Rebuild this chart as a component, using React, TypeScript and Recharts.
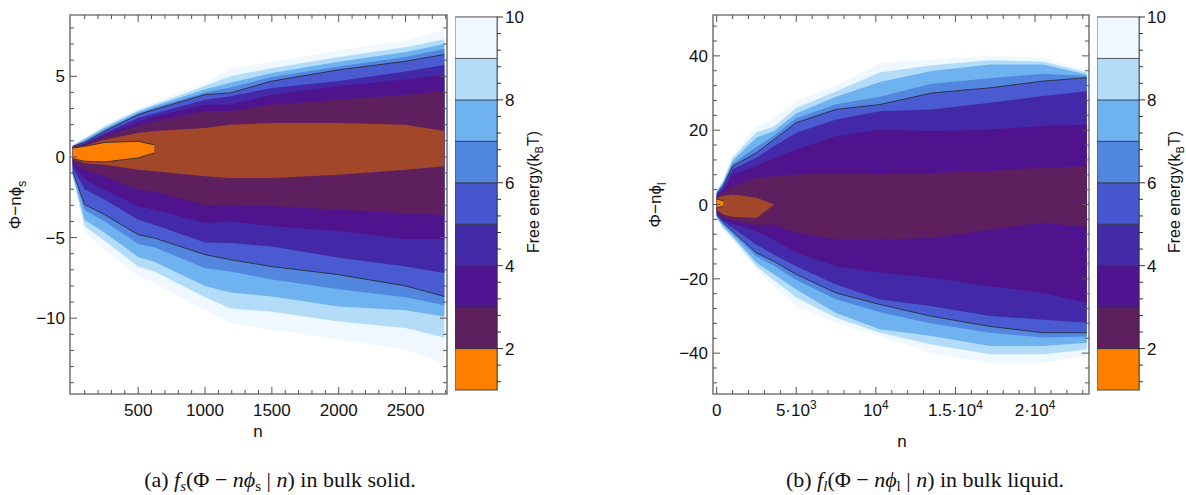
import React from "react";
import { ComposedChart, Area, XAxis, YAxis, ReferenceArea, BarChart, Bar } from "recharts";

// ---------------- Panel (a): bulk solid ----------------
const nA = [10, 100, 250, 500, 620, 1000, 1190, 1500, 2000, 2500, 2790];
const aPaleHi = [0.75, 1.2, 2.0, 3.0, 3.4, 4.6, 5.5, 5.9, 6.6, 7.2, 7.9];
const aL8Hi = [0.72, 1.15, 1.9, 2.9, 3.25, 4.4, 5.0, 5.5, 6.2, 6.8, 7.3];
const aLightHi = [0.7, 1.1, 1.8, 2.8, 3.15, 4.2, 4.6, 5.2, 5.9, 6.5, 7.0];
const aL6Hi = [0.68, 1.0, 1.7, 2.7, 3.05, 4.0, 4.3, 4.95, 5.6, 6.2, 6.7];
const aBlackHi = [0.65, 0.9, 1.6, 2.62, 2.93, 3.86, 3.97, 4.7, 5.4, 5.93, 6.35];
const aIndHi = [0.63, 0.85, 1.5, 2.42, 2.7, 3.55, 3.76, 4.28, 4.7, 5.3, 5.7];
const aPurHi = [0.62, 0.8, 1.38, 2.2, 2.5, 3.24, 3.25, 3.86, 4.38, 4.8, 5.1];
const aDarkHi = [0.61, 0.75, 1.28, 1.94, 2.2, 2.83, 2.83, 3.24, 3.55, 3.86, 4.07];
const aBrownHi = [0.6, 0.7, 1.07, 1.49, 1.6, 1.8, 2.0, 2.1, 2.1, 2.0, 1.6];
const aCoreHi = [0.55, 0.66, 0.9, 0.97, 0.75, null, null, null, null, null, null];
const aCoreLo = [-0.1, -0.27, -0.31, -0.06, 0.25, null, null, null, null, null, null];
const aBrownLo = [-0.15, -0.4, -0.48, -0.79, -0.89, -1.2, -1.3, -1.3, -1.1, -0.79, -0.58];
const aDarkLo = [-0.3, -0.8, -1.2, -2.03, -2.13, -3.0, -2.96, -3.06, -3.27, -3.5, -3.6];
const aPurLo = [-0.5, -1.4, -2.03, -3.06, -3.27, -4.1, -4.0, -4.3, -4.6, -5.1, -5.1];
const aIndLo = [-0.7, -2.0, -2.65, -3.9, -4.2, -5.3, -5.34, -5.55, -6.25, -6.8, -7.2];
const aBlackLo = [-0.9, -2.96, -3.58, -4.82, -5.03, -6.06, -6.37, -6.8, -7.3, -8.0, -8.65];
const aL6Lo = [-1.0, -3.3, -4.0, -5.4, -5.6, -6.9, -7.1, -7.6, -8.2, -8.7, -9.2];
const aLightLo = [-1.1, -3.9, -4.7, -6.2, -6.5, -8.0, -8.4, -8.65, -9.27, -9.5, -9.9];
const aL8Lo = [-1.2, -4.3, -5.2, -6.8, -7.1, -8.7, -9.4, -9.6, -10.2, -10.6, -11.2];
const aPaleLo = [-1.3, -4.7, -5.75, -7.4, -7.8, -9.5, -10.3, -10.7, -11.3, -11.95, -12.8];

const aXTicks = [100,200,300,400,500,600,700,800,900,1000,1100,1200,1300,1400,1500,1600,1700,1800,1900,2000,2100,2200,2300,2400,2500,2600,2700,2800];
const aXMajor = [500, 1000, 1500, 2000, 2500];
const aYTicks = [-14,-13,-12,-11,-10,-9,-8,-7,-6,-5,-4,-3,-2,-1,0,1,2,3,4,5,6,7,8];
const aYMajor = [-10, -5, 0, 5];

// ---------------- Panel (b): bulk liquid ----------------
const nB = [0, 400, 1000, 2500, 3600, 5000, 7500, 10250, 13500, 17170, 20500, 23250];
const bPaleHi = [4, 6.7, 13.3, 21, 23, 28, 32, 38, 39, 40, 39.5, 36];
const bL8Hi = [3.7, 6.3, 12.5, 19.5, 21, 26, 30.5, 35.5, 37.5, 38.8, 38.5, 35.5];
const bLightHi = [3.4, 6.0, 11.8, 18, 19.8, 24.5, 29, 33, 35.9, 37.7, 37.7, 35];
const bL6Hi = [3.1, 5.5, 11.0, 15.5, 18.5, 23.2, 27, 29, 32.5, 34, 35.2, 34.6];
const bBlackHi = [2.8, 4.9, 10.3, 13.9, 17.5, 22, 25.6, 26.9, 30.0, 31.4, 33.2, 34.1];
const bIndHi = [2.5, 4.5, 9.5, 12.6, 15.7, 19.3, 22.9, 25.1, 25.6, 27.4, 29.2, 30.5];
const bPurHi = [2.2, 3.9, 8, 10.3, 12.6, 14.8, 18.4, 20.2, 19.7, 20.2, 21.1, 21.5];
const bDarkHi = [2.0, 3.2, 4.9, 7.2, 7.6, 8.1, 8.5, 8.1, 8.5, 9.0, 9.9, 10.3];
const bBrownHi = [1.8, 2.3, 2.7, 1.8, 0.1, null, null, null, null, null, null, null];
const bCoreHi = [1.5, 1.0, null, null, null, null, null, null, null, null, null, null];
const bCoreLo = [-0.9, -0.5, null, null, null, null, null, null, null, null, null, null];
const bBrownLo = [-1.5, -2.7, -3.3, -3.6, -0.1, null, null, null, null, null, null, null];
const bDarkLo = [-1.9, -3.6, -4.3, -5.5, -5.4, -7.6, -9.4, -9.4, -9.0, -6.7, -5, -6];
const bPurLo = [-2.2, -4.2, -5.2, -7.2, -9.4, -13, -16.6, -18.4, -19.7, -22, -23.8, -26.5];
const bIndLo = [-2.5, -4.5, -6.3, -10.8, -13.5, -16.6, -21.5, -25.6, -27.4, -30, -31, -31.8];
const bBlackLo = [-2.8, -4.8, -7.2, -13.0, -15.3, -18.8, -23.8, -26.9, -30.1, -32.8, -34.5, -34.5];
const bL6Lo = [-3.1, -5.3, -7.8, -14, -16.5, -20.3, -25.5, -29, -32, -34.5, -35.8, -35.5];
const bLightLo = [-3.4, -5.8, -8.5, -15.7, -18.8, -22.9, -29.2, -33.6, -35.4, -38.1, -38.1, -37.2];
const bL8Lo = [-3.7, -6.3, -9.0, -16.6, -20.4, -25, -30.5, -34.5, -37.7, -40.3, -40.3, -39];
const bPaleLo = [-4, -6.8, -9.5, -17.5, -22, -27.4, -31.8, -35.4, -40, -42.6, -42.6, -40.8];

const bXTicks = [0,1000,2000,3000,4000,5000,6000,7000,8000,9000,10000,11000,12000,13000,14000,15000,16000,17000,18000,19000,20000,21000,22000,23000];
const bXMajor = [0, 5000, 10000, 15000, 20000];
const bYTicks = [-48,-44,-40,-36,-32,-28,-24,-20,-16,-12,-8,-4,0,4,8,12,16,20,24,28,32,36,40,44,48];
const bYMajor = [-40, -20, 0, 20, 40];

// ---------------- Colour bar ----------------
const cbLevels = ["b1", "b2", "b3", "b4", "b5", "b6", "b7", "b8", "b9"];
const cbColors = ["#ff8000", "#5c1e5c", "#4f1591", "#432aa6", "#4857d0", "#5287e0", "#6fb2f0", "#b3dcf8", "#eef8fe"];
const cbData = [{ k: "c", base: 1, b1: 1, b2: 1, b3: 1, b4: 1, b5: 1, b6: 1, b7: 1, b8: 1, b9: 1 }];
const cbTicks = [1.2,1.6,2,2.4,2.8,3.2,3.6,4,4.4,4.8,5.2,5.6,6,6.4,6.8,7.2,7.6,8,8.4,8.8,9.2,9.6,10];
const cbMajor = [2, 4, 6, 8, 10];

// band keys (outer to inner) and fills
const bandKeys = ["pale", "l8", "light", "l6", "black", "ind", "pur", "dark", "brown", "core"];
const bandFill: Record<string, string> = {
  pale: "#eef8fe", l8: "#b3dcf8", light: "#6fb2f0", l6: "#5287e0", black: "#4a5bd1",
  ind: "#4329a7", pur: "#4f148d", dark: "#5e1f5e", brown: "#a3472a", core: "#ff8000",
};

const pair = (lo: (number | null)[], hi: (number | null)[], i: number) =>
  lo[i] == null || hi[i] == null ? null : [lo[i], hi[i]];

const rowsA = nA.map((n, i) => ({
  n,
  pale: pair(aPaleLo, aPaleHi, i), l8: pair(aL8Lo, aL8Hi, i), light: pair(aLightLo, aLightHi, i),
  l6: pair(aL6Lo, aL6Hi, i), black: pair(aBlackLo, aBlackHi, i), ind: pair(aIndLo, aIndHi, i),
  pur: pair(aPurLo, aPurHi, i), dark: pair(aDarkLo, aDarkHi, i), brown: pair(aBrownLo, aBrownHi, i),
  core: pair(aCoreLo, aCoreHi, i),
}));
const rowsB = nB.map((n, i) => ({
  n,
  pale: pair(bPaleLo, bPaleHi, i), l8: pair(bL8Lo, bL8Hi, i), light: pair(bLightLo, bLightHi, i),
  l6: pair(bL6Lo, bL6Hi, i), black: pair(bBlackLo, bBlackHi, i), ind: pair(bIndLo, bIndHi, i),
  pur: pair(bPurLo, bPurHi, i), dark: pair(bDarkLo, bDarkHi, i), brown: pair(bBrownLo, bBrownHi, i),
  core: pair(bCoreLo, bCoreHi, i),
}));

const SANS = "'Liberation Sans', Arial, Helvetica, sans-serif";
const SERIF = "'Liberation Serif', 'Times New Roman', serif";
const TICK_COLOR = "#555";
const FONT_SIZE = 17;

type Frame = { left: number; right: number; top: number; bottom: number };
const FRAME_A: Frame = { left: 70, right: 447, top: 15, bottom: 394 };
const FRAME_B: Frame = { left: 73, right: 449, top: 15, bottom: 394 };

const fmtMinus = (v: number) => (v < 0 ? "\u2212" + Math.abs(v) : String(v));

const makeXTick = (fr: Frame, majors: number[], label: (v: number) => React.ReactNode) => (props: any) => {
  const { x, payload } = props;
  const v = payload.value;
  const major = majors.includes(v);
  const len = major ? 7 : 4;
  return (
    <g>
      <line x1={x} x2={x} y1={fr.bottom} y2={fr.bottom - len} stroke={TICK_COLOR} strokeWidth={1} />
      <line x1={x} x2={x} y1={fr.top} y2={fr.top + len} stroke={TICK_COLOR} strokeWidth={1} />
      {major && (
        <text x={x} y={fr.bottom + 22} textAnchor="middle" fontFamily={SANS} fontSize={FONT_SIZE} fill="#111">
          {label(v)}
        </text>
      )}
    </g>
  );
};

const makeYTick = (fr: Frame, majors: number[]) => (props: any) => {
  const { y, payload } = props;
  const v = payload.value;
  const major = majors.includes(v);
  const len = major ? 7 : 4;
  return (
    <g>
      <line x1={fr.left} x2={fr.left + len} y1={y} y2={y} stroke={TICK_COLOR} strokeWidth={1} />
      <line x1={fr.right} x2={fr.right - len} y1={y} y2={y} stroke={TICK_COLOR} strokeWidth={1} />
      {major && (
        <text x={fr.left - 5} y={y} dy="0.36em" textAnchor="end" fontFamily={SANS} fontSize={FONT_SIZE} fill="#111">
          {fmtMinus(v)}
        </text>
      )}
    </g>
  );
};

const labelB = (v: number): React.ReactNode => {
  if (v === 0) return "0";
  if (v === 5000) return (<><tspan>5·10</tspan><tspan dy={-7} fontSize={12}>3</tspan></>);
  if (v === 10000) return (<><tspan>10</tspan><tspan dy={-7} fontSize={12}>4</tspan></>);
  if (v === 15000) return (<><tspan>1.5·10</tspan><tspan dy={-7} fontSize={12}>4</tspan></>);
  return (<><tspan>2·10</tspan><tspan dy={-7} fontSize={12}>4</tspan></>);
};

const cbTick = (props: any) => {
  const { x, y, payload } = props;
  const v = payload.value;
  const major = cbMajor.includes(v);
  return (
    <g>
      <line x1={x} x2={x + (major ? 6 : 4)} y1={y} y2={y} stroke="#333" strokeWidth={1} />
      {major && (
        <text x={x + 8} y={y} dy="0.36em" textAnchor="start" fontFamily={SANS} fontSize={FONT_SIZE} fill="#111">
          {v}
        </text>
      )}
    </g>
  );
};

function Contour({ rows, domainX, domainY, xTicks, xTick, yTicks, yTick, yWidth, right }: any) {
  return (
    <ComposedChart width={460} height={440} data={rows} margin={{ top: 15, right, bottom: 0, left: 0 }}>
      <XAxis dataKey="n" type="number" domain={domainX} allowDataOverflow ticks={xTicks} interval={0}
        tick={xTick} tickLine={false} axisLine={false} tickSize={0} tickMargin={0} height={46} />
      <YAxis type="number" domain={domainY} allowDataOverflow ticks={yTicks} interval={0}
        tick={yTick} tickLine={false} axisLine={false} tickSize={0} tickMargin={0} width={yWidth} />
      {bandKeys.map((k) => (
        <Area key={k} dataKey={k} type="linear" isAnimationActive={false} dot={false} activeDot={false}
          fill={bandFill[k]} fillOpacity={1}
          stroke={k === "black" || k === "core" ? "#2a2a35" : "none"} strokeWidth={k === "black" || k === "core" ? 0.9 : 0}
          connectNulls={false} />
      ))}
      <ReferenceArea x1={domainX[0]} x2={domainX[1]} y1={domainY[0]} y2={domainY[1]} fill="none"
        stroke="#7a7a7a" strokeWidth={1.6} ifOverflow="visible" />
    </ComposedChart>
  );
}

function ColorBar() {
  return (
    <BarChart width={100} height={400} data={cbData} margin={{ top: 17, right: 0, bottom: 10, left: 0 }}
      barCategoryGap={0} barGap={0}>
      <XAxis dataKey="k" hide />
      <YAxis orientation="right" type="number" domain={[1, 10]} allowDataOverflow ticks={cbTicks} interval={0}
        tick={cbTick} tickLine={false} axisLine={false} tickSize={0} tickMargin={0} width={58} />
      <Bar dataKey="base" stackId="s" fill="none" isAnimationActive={false} />
      {cbLevels.map((k, i) => (
        <Bar key={k} dataKey={k} stackId="s" fill={cbColors[i]} stroke="#2f2f3a" strokeWidth={0.7} isAnimationActive={false} />
      ))}
      <ReferenceArea y1={1} y2={10} fill="none" stroke="#7a7a7a" strokeWidth={1.6} ifOverflow="visible" />
    </BarChart>
  );
}

export default function App() {
  const abs = (left: number, top: number): React.CSSProperties => ({ position: "absolute", left, top });
  return (
    <div style={{ position: "absolute", left: 0, top: 0, width: 1186, height: 495, background: "#fff", overflow: "hidden" }}>
      <div style={abs(0, 0)}>
        <Contour rows={rowsA} domainX={[-10, 2810]} domainY={[-14.7, 8.8]}
          xTicks={aXTicks} xTick={makeXTick(FRAME_A, aXMajor, (v) => String(v))}
          yTicks={aYTicks} yTick={makeYTick(FRAME_A, aYMajor)} yWidth={70} right={13} />
      </div>
      <div style={abs(455, 0)}><ColorBar /></div>
      <div style={abs(640, 0)}>
        <Contour rows={rowsB} domainX={[-230, 23390]} domainY={[-51, 51]}
          xTicks={bXTicks} xTick={makeXTick(FRAME_B, bXMajor, labelB)}
          yTicks={bYTicks} yTick={makeYTick(FRAME_B, bYMajor)} yWidth={73} right={11} />
      </div>
      <div style={abs(1097, 0)}><ColorBar /></div>
      <svg width={1186} height={495} style={{ position: "absolute", left: 0, top: 0, pointerEvents: "none" }}>
        <text x={258} y={437} textAnchor="middle" fontFamily={SANS} fontSize={FONT_SIZE} fill="#111">n</text>
        <text x={902} y={447} textAnchor="middle" fontFamily={SANS} fontSize={FONT_SIZE} fill="#111">n</text>
        <text transform="translate(21,205) rotate(-90)" textAnchor="middle" fontFamily={SANS} fontSize={FONT_SIZE} fill="#111">
          Φ−nϕ<tspan dy={5} fontSize={12}>s</tspan>
        </text>
        <text transform="translate(661,205) rotate(-90)" textAnchor="middle" fontFamily={SANS} fontSize={FONT_SIZE} fill="#111">
          Φ−nϕ<tspan dy={5} fontSize={12}>l</tspan>
        </text>
        <text transform="translate(539,192) rotate(-90)" textAnchor="middle" fontFamily={SANS} fontSize={16} fill="#111">
          Free energy(k<tspan dy={4} fontSize={11}>B</tspan><tspan dy={-4}>T)</tspan>
        </text>
        <text transform="translate(1180,192) rotate(-90)" textAnchor="middle" fontFamily={SANS} fontSize={16} fill="#111">
          Free energy(k<tspan dy={4} fontSize={11}>B</tspan><tspan dy={-4}>T)</tspan>
        </text>
        <text x={280} y={487} textAnchor="middle" fontFamily={SERIF} fontSize={22} fill="#111">
          (a) <tspan fontStyle="italic">f</tspan><tspan dy={4} fontSize={15} fontStyle="italic">s</tspan>
          <tspan dy={-4}>(Φ − </tspan><tspan fontStyle="italic">nϕ</tspan><tspan dy={4} fontSize={15}>s</tspan>
          <tspan dy={-4}> | </tspan><tspan fontStyle="italic">n</tspan><tspan>) in bulk solid.</tspan>
        </text>
        <text x={925} y={487} textAnchor="middle" fontFamily={SERIF} fontSize={22} fill="#111">
          (b) <tspan fontStyle="italic">f</tspan><tspan dy={4} fontSize={15} fontStyle="italic">l</tspan>
          <tspan dy={-4}>(Φ − </tspan><tspan fontStyle="italic">nϕ</tspan><tspan dy={4} fontSize={15}>l</tspan>
          <tspan dy={-4}> | </tspan><tspan fontStyle="italic">n</tspan><tspan>) in bulk liquid.</tspan>
        </text>
      </svg>
    </div>
  );
}
